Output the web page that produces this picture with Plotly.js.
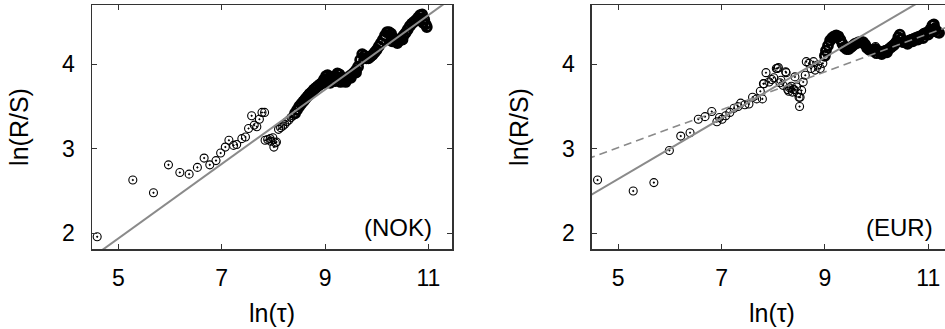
<!DOCTYPE html>
<html>
<head>
<meta charset="utf-8">
<script src="https://cdn.plot.ly/plotly-3.0.1.min.js"></script>
<style>
html,body{margin:0;padding:0;overflow:hidden;background:#fff;}
#chart{width:960px;height:329px;}
</style>
</head>
<body>
<div id="chart"></div>
<script>
// ---- NOK panel data: ln(tau), ln(R/S) — sparse points (small tau)
const nokX = [4.59,5.28,5.68,5.97,6.19,6.37,6.53,6.66,6.77,6.89,6.98,7.07,7.14,7.23,7.29,7.39,7.46,7.52,7.58,7.63,7.68,7.73,7.78,7.83,7.84,7.89,7.95,7.99,8.01,8.06,7.94,8.04,
  8.10,8.14,8.18,8.22,8.26,8.30,8.34,8.38];
const nokY = [1.96,2.63,2.48,2.81,2.72,2.70,2.78,2.89,2.81,2.86,2.95,3.02,3.10,3.04,3.05,3.12,3.14,3.24,3.39,3.28,3.26,3.35,3.43,3.43,3.10,3.11,3.09,3.13,3.02,3.08,3.12,3.07,
  3.23,3.25,3.27,3.29,3.32,3.34,3.37,3.39];
// NOK dense band (large tau, heavily overlapping points)
const nokBandX = [8.42,8.46,8.50,8.54,8.58,8.62,8.66,8.70,8.74,8.78,8.82,8.86,8.90,8.94,8.98,9.02,9.05,9.08,9.12,9.16,9.20,9.24,9.28,9.32,9.36,9.40,9.44,9.48,9.52,9.56,9.60,9.64,9.68,9.72,9.76,9.80,9.84,9.88,9.92,9.96,10.00,10.04,10.08,10.12,10.16,10.20,10.24,10.28,10.32,10.36,10.40,10.44,10.48,10.52,10.56,10.60,10.64,10.68,10.72,10.76,10.80,10.84,10.88,10.92,10.95,10.97,
  9.00,9.10,9.20,9.30,9.40,9.50,9.60,10.30,10.40,10.50,10.90];
const nokBandY = [3.42,3.46,3.50,3.53,3.56,3.59,3.62,3.65,3.67,3.70,3.72,3.74,3.76,3.78,3.82,3.86,3.87,3.84,3.80,3.82,3.86,3.89,3.88,3.84,3.81,3.81,3.83,3.86,3.88,3.90,3.93,3.97,4.05,4.12,4.10,4.07,4.07,4.09,4.11,4.14,4.17,4.21,4.25,4.29,4.34,4.38,4.38,4.36,4.31,4.28,4.27,4.28,4.31,4.34,4.37,4.41,4.45,4.48,4.50,4.52,4.55,4.58,4.59,4.53,4.47,4.44,
  3.78,3.78,3.80,3.79,3.79,3.84,3.90,4.27,4.25,4.29,4.49];
const nokFitX = [4.40, 11.50];
const nokFitY = [1.676, 4.800];

// ---- EUR panel data — sparse points
const eurX = [4.60,5.29,5.69,5.99,6.21,6.39,6.55,6.68,6.81,6.91,6.96,7.01,7.08,7.16,7.24,7.32,7.37,7.45,7.53,7.60,7.68,7.75,7.79,7.82,7.86,7.92,7.97,8.01,8.06,8.10,8.15,8.19,8.24,8.28,8.32,8.37,8.42,8.45,8.50,8.51,8.55,8.58,8.62,8.64,8.69,8.73,8.78,8.81,8.86,8.91,8.96,7.81,8.08,8.25,8.52,8.35,8.47,8.40,8.13,8.30];
const eurY = [2.63,2.50,2.60,2.98,3.15,3.19,3.35,3.38,3.44,3.32,3.37,3.35,3.39,3.43,3.48,3.50,3.54,3.52,3.53,3.61,3.59,3.68,3.59,3.77,3.90,3.79,3.82,3.84,3.95,3.96,3.81,3.75,3.91,3.70,3.72,3.67,3.85,3.73,3.61,3.50,3.69,3.79,3.87,4.03,4.01,3.95,4.03,3.93,3.99,3.95,4.01,3.77,3.95,3.90,3.61,3.74,3.66,3.70,3.78,3.68];
// EUR dense band
const eurBandX = [9.00,9.02,9.06,9.10,9.14,9.18,9.22,9.26,9.30,9.34,9.38,9.42,9.46,9.50,9.54,9.58,9.62,9.66,9.70,9.74,9.78,9.82,9.86,9.90,9.94,9.98,10.02,10.06,10.10,10.14,10.18,10.22,10.26,10.30,10.34,10.38,10.42,10.45,10.48,10.52,10.56,10.60,10.64,10.68,10.72,10.76,10.80,10.84,10.88,10.92,10.96,11.00,11.04,11.08,11.11,11.14,11.18,11.21,
  10.00,10.10,10.20,10.60,10.70,10.80,10.90,11.00,11.10];
const eurBandY = [4.10,4.16,4.22,4.28,4.31,4.33,4.34,4.33,4.29,4.24,4.20,4.18,4.18,4.20,4.22,4.24,4.25,4.26,4.26,4.26,4.23,4.19,4.17,4.16,4.16,4.18,4.16,4.14,4.14,4.15,4.16,4.17,4.19,4.21,4.23,4.26,4.32,4.35,4.30,4.26,4.26,4.27,4.28,4.29,4.30,4.31,4.32,4.33,4.34,4.36,4.37,4.38,4.41,4.46,4.47,4.41,4.38,4.37,
  4.13,4.12,4.14,4.24,4.27,4.29,4.31,4.35,4.39];
const eurExtraX = [9.98];
const eurExtraY = [4.21];
const eurFitX = [4.40, 11.50];
const eurFitY = [2.428, 4.977];
const eurDashX = [4.40, 11.50];
const eurDashY = [2.880, 4.470];

const xTicks = [5,7,9,11];
const yTicks = [2,3,4];
const panelLabels = ['(NOK)','(EUR)'];

const marker = {symbol:'circle-open-dot', size:8, color:'#000', line:{width:1.1, color:'#000'}};
const bandMarker = {symbol:'circle-open-dot', size:9, color:'#000', line:{width:2.8, color:'#000'}};
const traces = [
  {x:nokX, y:nokY, type:'scatter', mode:'markers', marker:marker, xaxis:'x', yaxis:'y'},
  {x:nokBandX, y:nokBandY, type:'scatter', mode:'markers', marker:bandMarker, xaxis:'x', yaxis:'y'},
  {x:nokFitX, y:nokFitY, type:'scatter', mode:'lines', line:{color:'#8a8a8a', width:2}, xaxis:'x', yaxis:'y'},
  {x:eurX, y:eurY, type:'scatter', mode:'markers', marker:marker, xaxis:'x2', yaxis:'y2'},
  {x:eurBandX, y:eurBandY, type:'scatter', mode:'markers', marker:bandMarker, xaxis:'x2', yaxis:'y2'},
  {x:eurExtraX, y:eurExtraY, type:'scatter', mode:'markers', marker:marker, xaxis:'x2', yaxis:'y2'},
  {x:eurFitX, y:eurFitY, type:'scatter', mode:'lines', line:{color:'#8a8a8a', width:2}, xaxis:'x2', yaxis:'y2'},
  {x:eurDashX, y:eurDashY, type:'scatter', mode:'lines', line:{color:'#8a8a8a', width:1.6, dash:'8px,5px'}, xaxis:'x2', yaxis:'y2'}
];

const fam = 'Liberation Sans, Arial, sans-serif';
const tickFont = {family:fam, size:23, color:'#000'};
const titleFont = {family:fam, size:25, color:'#000'};
function xa(dom){
  return {domain:dom, range:[4.49,11.46], tickvals:xTicks, ticktext:xTicks.map(String), ticks:'inside', ticklen:5, tickwidth:1, tickcolor:'#333',
    showline:true, linecolor:'#333', linewidth:1.5, mirror:'ticks', showgrid:false, zeroline:false, tickfont:tickFont, ticklabelstandoff:8,
    title:{text:'ln(τ)', font:titleFont, standoff:14}};
}
function ya(anchor){
  return {domain:[0,1], range:[1.815,4.70], tickvals:yTicks, ticktext:yTicks.map(String), ticks:'inside', ticklen:5, tickwidth:1, tickcolor:'#333',
    showline:true, linecolor:'#333', linewidth:1.5, mirror:'ticks', showgrid:false, zeroline:false, tickfont:tickFont, ticklabelstandoff:11,
    anchor:anchor, title:{text:'ln(R/S)', font:titleFont, standoff:26}};
}
const layout = {
  width:960, height:329, showlegend:false,
  margin:{l:92, r:8.3, t:5, b:80, pad:0},
  paper_bgcolor:'#fff', plot_bgcolor:'#fff',
  xaxis:Object.assign(xa([0,0.41875]), {anchor:'y'}),
  yaxis:ya('x'),
  xaxis2:Object.assign(xa([0.58125,1]), {anchor:'y2'}),
  yaxis2:ya('x2'),
  annotations:[
    {text:panelLabels[0], xref:'x', yref:'y', x:11.11, y:2.075, xanchor:'right', yanchor:'middle', showarrow:false, font:{family:fam, size:24, color:'#000'}},
    {text:panelLabels[1], xref:'x2', yref:'y2', x:11.14, y:2.075, xanchor:'right', yanchor:'middle', showarrow:false, font:{family:fam, size:24, color:'#000'}}
  ]
};
Plotly.newPlot('chart', traces, layout, {staticPlot:true, displayModeBar:false});
</script>
</body>
</html>
